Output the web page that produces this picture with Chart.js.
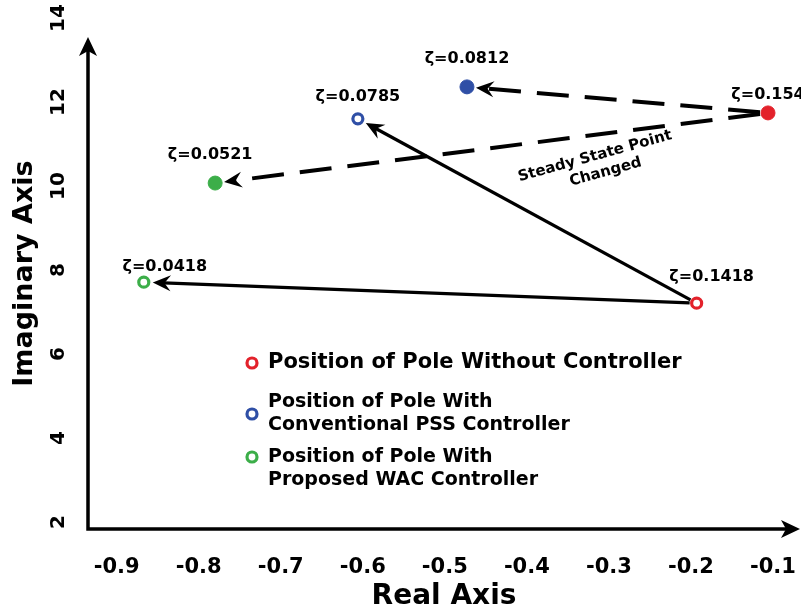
<!DOCTYPE html>
<html>
<head>
<meta charset="utf-8">
<script src="https://cdn.jsdelivr.net/npm/chart.js@4/dist/chart.umd.min.js"></script>
<style>
  body { margin: 0; background: #fff; }
</style>
</head>
<body>
<canvas id="poleChart" width="801" height="614"></canvas>
<script>
// poles before the steady state point changed (hollow markers, solid arrows)
const realHollow = [-0.193, -0.606, -0.867];
const imagHollow = [7.21, 11.60, 7.71];
const zetaHollow = ["0.1418", "0.0785", "0.0418"];
// poles after the steady state point changed (filled markers, dashed arrows)
const realFilled = [-0.106, -0.473, -0.780];
const imagFilled = [11.74, 12.36, 10.07];
const zetaFilled = ["0.154", "0.0812", "0.0521"];

const legendLines = [
  ["Position of Pole Without Controller"],
  ["Position of Pole With", "Conventional PSS Controller"],
  ["Position of Pole With", "Proposed WAC Controller"],
];
const colors = ["#e3222b", "#2f4fa6", "#3cae49"];
const xTicksStep = 0.1;
const yTicksStep = 2;

// label offsets in px (hollow, filled) for each pole
const hollowOffsets = [[15, -26], [0, -22], [21, -15]];
const filledOffsets = [[0, -18], [0, -28], [-5, -28]];

const FONT = "DejaVu Sans";
Chart.defaults.font.family = FONT;
Chart.defaults.color = "#000";

function arrow(ctx, x0, y0, x1, y1, startGap, endGap, dashed) {
  const a = Math.atan2(y1 - y0, x1 - x0);
  const c = Math.cos(a), s = Math.sin(a);
  const sx = x0 + c * startGap, sy = y0 + s * startGap;
  const tx = x1 - c * endGap, ty = y1 - s * endGap;
  const len = 18, half = 8;
  ctx.save();
  ctx.strokeStyle = "#000";
  ctx.fillStyle = "#000";
  ctx.lineWidth = dashed ? 4 : 3.2;
  ctx.setLineDash(dashed ? [32, 16] : []);
  ctx.beginPath();
  ctx.moveTo(sx, sy);
  ctx.lineTo(tx - c * len * 0.6, ty - s * len * 0.6);
  ctx.stroke();
  ctx.setLineDash([]);
  ctx.beginPath();
  ctx.moveTo(tx, ty);
  ctx.lineTo(tx - c * len - s * half, ty - s * len + c * half);
  ctx.lineTo(tx - c * len * 0.65, ty - s * len * 0.65);
  ctx.lineTo(tx - c * len + s * half, ty - s * len - c * half);
  ctx.closePath();
  ctx.fill();
  ctx.restore();
}

const arrowsPlugin = {
  id: "arrows",
  beforeDatasetsDraw(chart) {
    const { ctx, scales: { x, y }, chartArea } = chart;
    // axes with arrow tips
    const ax = chartArea.left, ay = chartArea.bottom;
    const yTip = y.getPixelForValue(13.55);
    const xTip = chartArea.right;
    ctx.save();
    ctx.strokeStyle = "#000";
    ctx.fillStyle = "#000";
    ctx.lineWidth = 3.5;
    ctx.beginPath();
    ctx.moveTo(xTip - 10, ay);
    ctx.lineTo(ax, ay);
    ctx.lineTo(ax, yTip + 10);
    ctx.stroke();
    ctx.beginPath();
    ctx.moveTo(ax, yTip);
    ctx.lineTo(ax - 9, yTip + 19);
    ctx.lineTo(ax, yTip + 14);
    ctx.lineTo(ax + 9, yTip + 19);
    ctx.closePath();
    ctx.fill();
    ctx.beginPath();
    ctx.moveTo(xTip, ay);
    ctx.lineTo(xTip - 19, ay - 9);
    ctx.lineTo(xTip - 14, ay);
    ctx.lineTo(xTip - 19, ay + 9);
    ctx.closePath();
    ctx.fill();
    ctx.restore();

    const hx = realHollow.map(v => x.getPixelForValue(v));
    const hy = imagHollow.map(v => y.getPixelForValue(v));
    const fx = realFilled.map(v => x.getPixelForValue(v));
    const fy = imagFilled.map(v => y.getPixelForValue(v));
    for (let i = 1; i < 3; i++) {
      arrow(ctx, hx[0], hy[0], hx[i], hy[i], 7, 9, false);
      arrow(ctx, fx[0], fy[0], fx[i], fy[i], 8, 9, true);
    }
  },
  afterDatasetsDraw(chart) {
    const { ctx, scales: { x, y } } = chart;
    ctx.save();
    ctx.fillStyle = "#000";
    ctx.textAlign = "center";
    ctx.textBaseline = "middle";
    ctx.font = "bold 16px " + FONT;
    for (let i = 0; i < 3; i++) {
      ctx.fillText("ζ=" + zetaHollow[i],
        x.getPixelForValue(realHollow[i]) + hollowOffsets[i][0],
        y.getPixelForValue(imagHollow[i]) + hollowOffsets[i][1]);
      ctx.fillText("ζ=" + zetaFilled[i],
        x.getPixelForValue(realFilled[i]) + filledOffsets[i][0],
        y.getPixelForValue(imagFilled[i]) + filledOffsets[i][1]);
    }
    // steady state note
    ctx.translate(x.getPixelForValue(-0.314), y.getPixelForValue(10.5));
    ctx.rotate(-15.5 * Math.PI / 180);
    ctx.font = "bold 15px " + FONT;
    ctx.fillText("Steady State Point", 0, -9);
    ctx.fillText("Changed", 6, 9);
    ctx.restore();

    // legend
    ctx.save();
    ctx.textAlign = "left";
    ctx.textBaseline = "middle";
    const lx = 252, tx = 268;
    const rows = [{ y: 363, size: 21, gap: 0, mark: 0 }, { y: 402, size: 19, gap: 23, mark: 12 }, { y: 457, size: 19, gap: 23, mark: 0 }];
    rows.forEach((r, i) => {
      ctx.font = "bold " + r.size + "px " + FONT;
      ctx.fillStyle = "#000";
      legendLines[i].forEach((t, k) => ctx.fillText(t, tx, r.y + k * r.gap));
      ctx.beginPath();
      ctx.arc(lx, r.y + r.mark, 5, 0, Math.PI * 2);
      ctx.lineWidth = 3.2;
      ctx.strokeStyle = colors[i];
      ctx.stroke();
    });
    ctx.restore();
  },
};

const datasets = colors.map((col, i) => ({
  label: legendLines[i].join(" "),
  data: [{ x: realHollow[i], y: imagHollow[i] }, { x: realFilled[i], y: imagFilled[i] }],
  borderColor: col,
  backgroundColor: col,
  pointBackgroundColor: ["#fff", col],
  pointRadius: [5, 7],
  pointBorderWidth: [3.2, 1],
  pointHoverRadius: [5, 7],
  showLine: false,
  clip: false,
}));

function noPad(s) {
  s.paddingTop = 0; s.paddingBottom = 0; s.paddingLeft = 0; s.paddingRight = 0;
}

new Chart(document.getElementById("poleChart"), {
  type: "scatter",
  data: { datasets },
  plugins: [arrowsPlugin],
  options: {
    responsive: false,
    animation: false,
    layout: { autoPadding: false, padding: { top: 18, right: 1, left: 0, bottom: 0 } },
    plugins: { legend: { display: false }, tooltip: { enabled: false } },
    scales: {
      x: {
        min: -0.935,
        max: -0.067,
        afterFit: s => { s.height = 85; noPad(s); },
        grid: { display: false, drawTicks: false },
        border: { display: false },
        ticks: { stepSize: xTicksStep, includeBounds: false, padding: 26, font: { size: 21, weight: "bold" }, color: "#000", maxRotation: 0 },
        title: { display: true, text: "Real Axis", font: { size: 28, weight: "bold" }, padding: { top: 0, bottom: 0 } },
      },
      y: {
        min: 1.833,
        max: 14,
        afterFit: s => { s.width = 88; noPad(s); },
        grid: { display: false, drawTicks: false },
        border: { display: false },
        ticks: { stepSize: yTicksStep, includeBounds: false, minRotation: 90, maxRotation: 90, crossAlign: "center", padding: 15, font: { size: 20, weight: "bold" }, color: "#000" },
        title: { display: true, text: "Imaginary Axis", font: { size: 27, weight: "bold" }, padding: { top: 9, bottom: 0 } },
      },
    },
  },
});
</script>
</body>
</html>
